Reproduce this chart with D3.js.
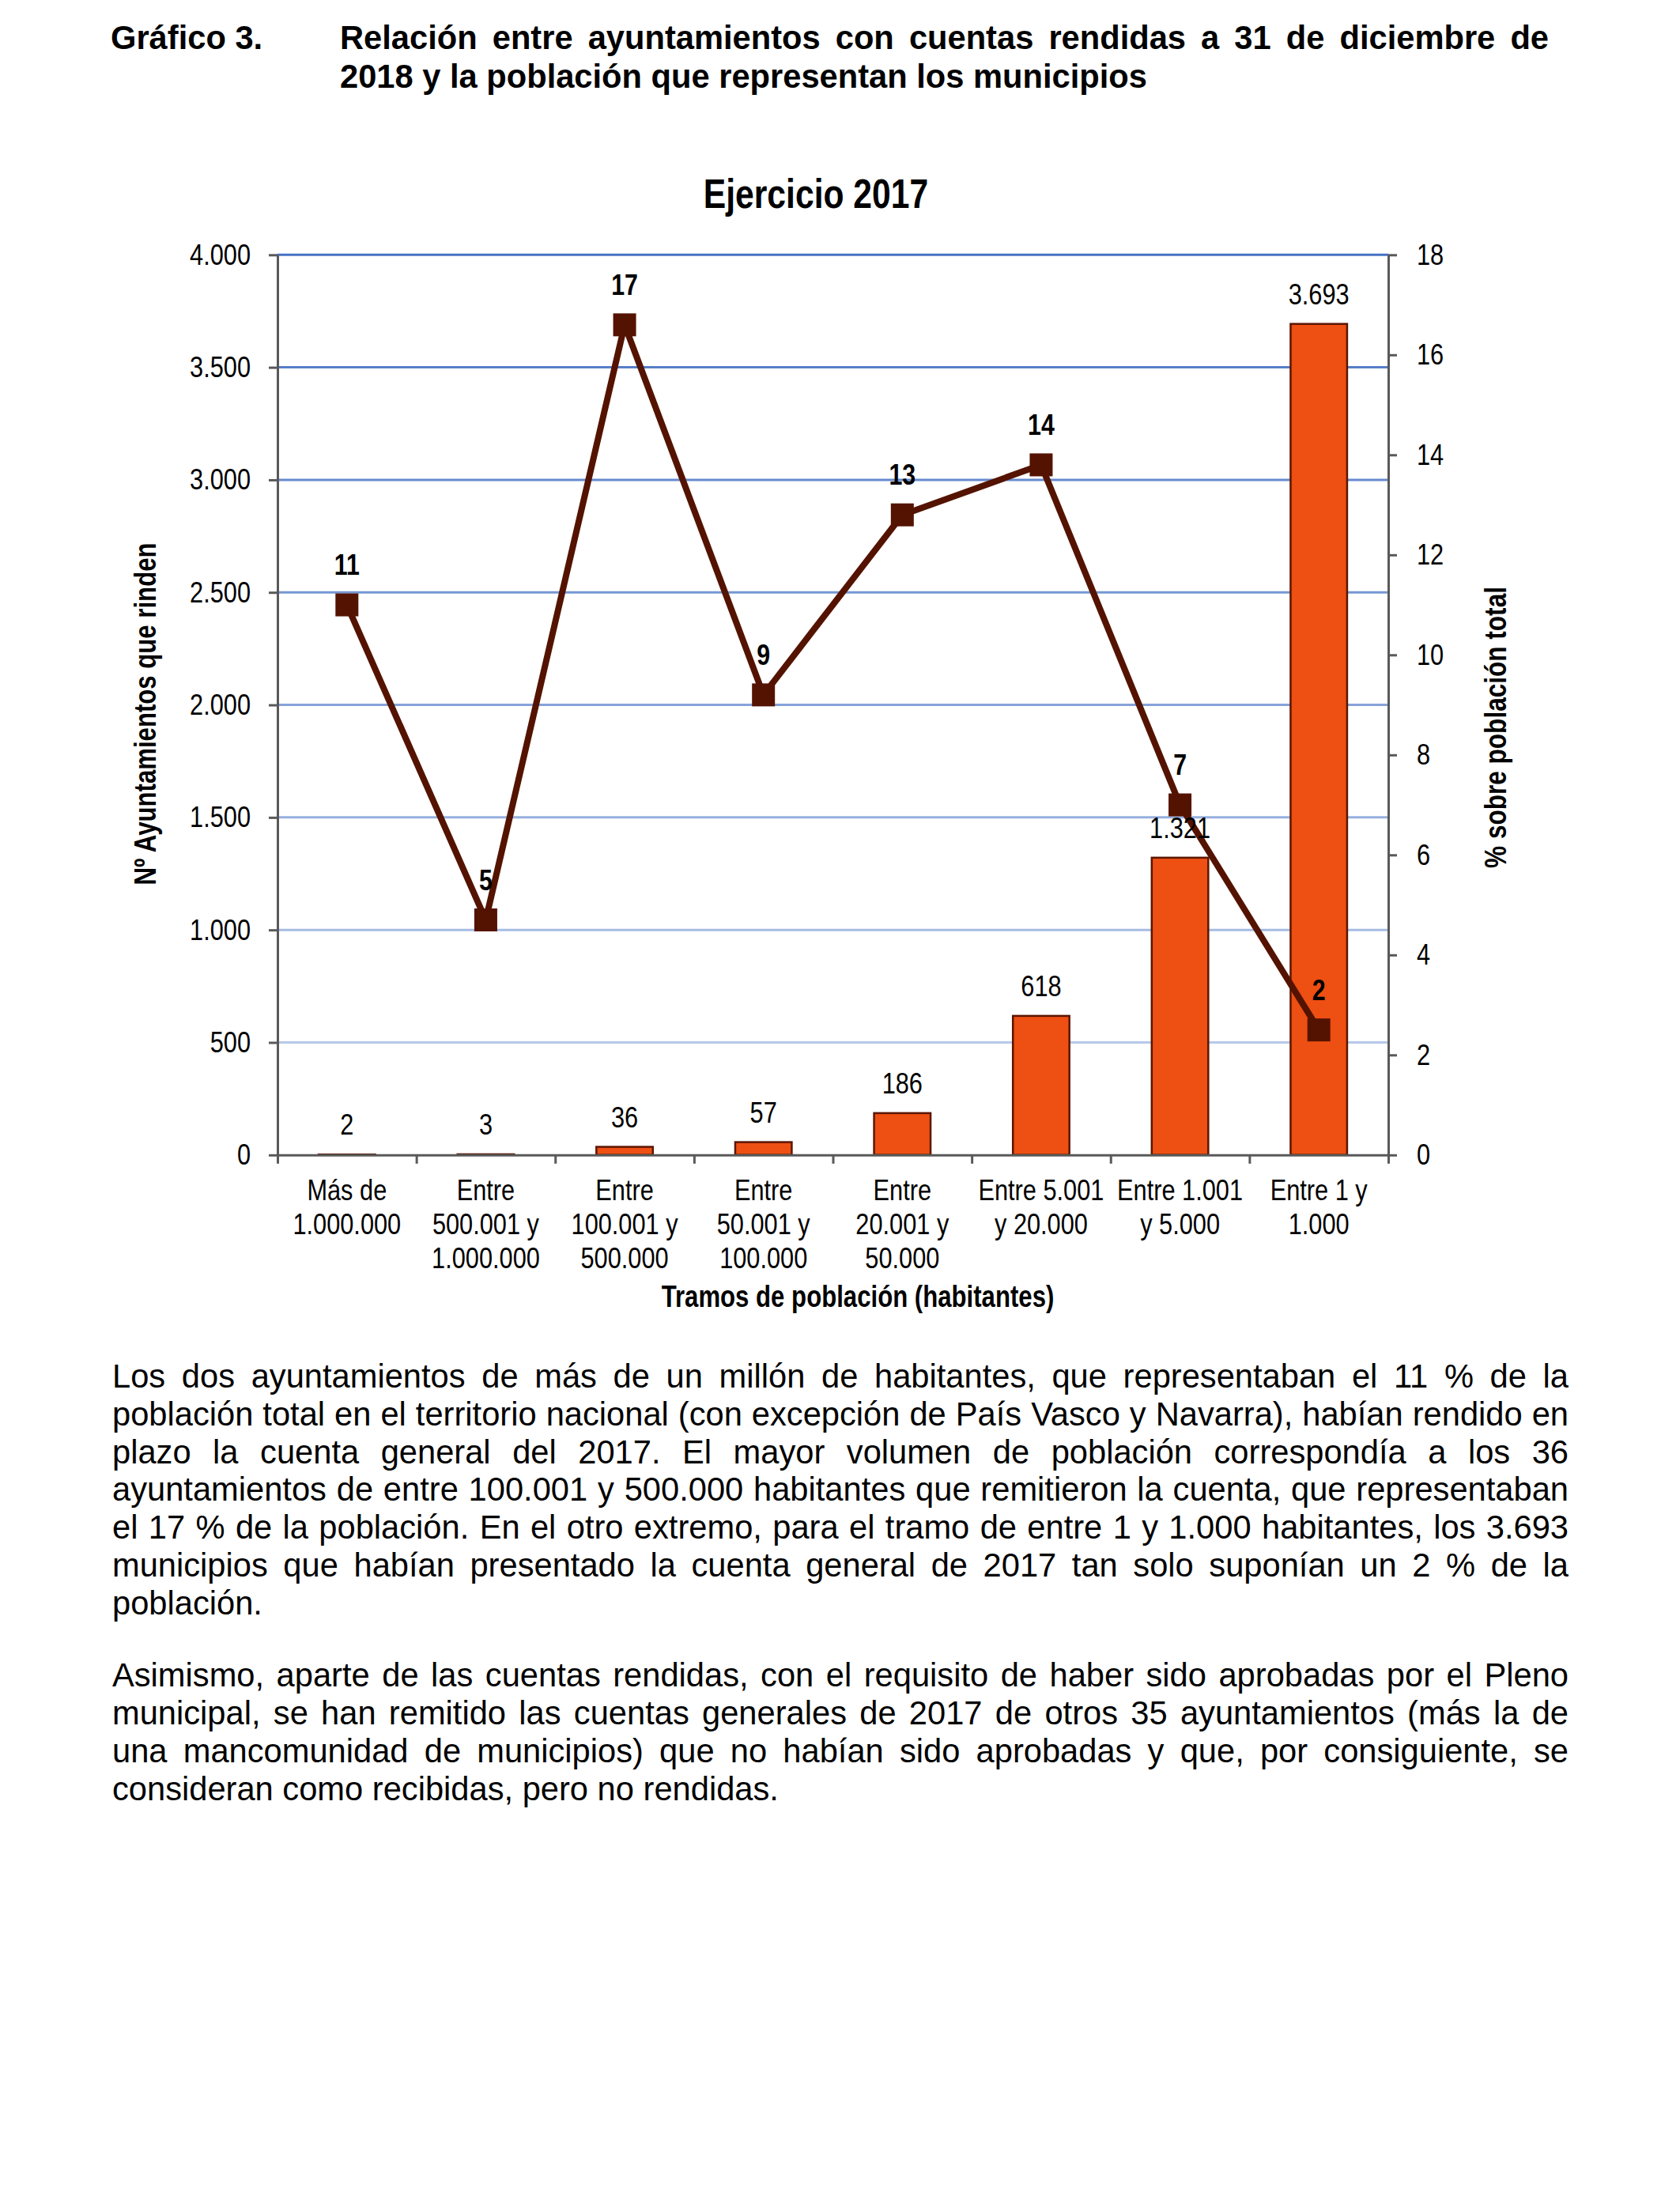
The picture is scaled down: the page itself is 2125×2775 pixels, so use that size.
<!DOCTYPE html>
<html><head><meta charset="utf-8">
<script src="https://cdn.jsdelivr.net/npm/d3@7"></script>
<style>
html,body{margin:0;padding:0;background:#fff;}
svg{display:block;}
</style></head><body>
<svg id="page" width="2125" height="2775"></svg>
<script>
// ---------- DATA ----------
const categories = ["c1","c2","c3","c4","c5","c6","c7","c8"];
const categoryLabels = [
  ["Más de","1.000.000"],
  ["Entre","500.001 y","1.000.000"],
  ["Entre","100.001 y","500.000"],
  ["Entre","50.001 y","100.000"],
  ["Entre","20.001 y","50.000"],
  ["Entre 5.001","y 20.000"],
  ["Entre 1.001","y 5.000"],
  ["Entre 1 y","1.000"]
];
const ayuntamientos = [2, 3, 36, 57, 186, 618, 1321, 3693];
const poblacionPct = [11.0, 4.7, 16.6, 9.2, 12.8, 13.8, 7.0, 2.5];
const poblacionLabels = ["11","5","17","9","13","14","7","2"];
const leftTicks = [0,500,1000,1500,2000,2500,3000,3500,4000];
const rightTicks = [0,2,4,6,8,10,12,14,16,18];

const chartTitle = "Ejercicio 2017";
const leftAxisTitle = "Nº Ayuntamientos que rinden";
const rightAxisTitle = "% sobre población total";
const xAxisTitle = "Tramos de población (habitantes)";

const headerLabel = "Gráfico 3.";
const headerLines = [
  {text:"Relación entre ayuntamientos con cuentas rendidas a 31 de diciembre de", justify:true},
  {text:"2018 y la población que representan los municipios", justify:false}
];
const para1 = [
  {text:"Los dos ayuntamientos de más de un millón de habitantes, que representaban el 11 % de la", justify:true},
  {text:"población total en el territorio nacional (con excepción de País Vasco y Navarra), habían rendido en", justify:true},
  {text:"plazo la cuenta general del 2017. El mayor volumen de población correspondía a los 36", justify:true},
  {text:"ayuntamientos de entre 100.001 y 500.000 habitantes que remitieron la cuenta, que representaban", justify:true},
  {text:"el 17 % de la población. En el otro extremo, para el tramo de entre 1 y 1.000 habitantes, los 3.693", justify:true},
  {text:"municipios que habían presentado la cuenta general de 2017 tan solo suponían un 2 % de la", justify:true},
  {text:"población.", justify:false}
];
const para2 = [
  {text:"Asimismo, aparte de las cuentas rendidas, con el requisito de haber sido aprobadas por el Pleno", justify:true},
  {text:"municipal, se han remitido las cuentas generales de 2017 de otros 35 ayuntamientos (más la de", justify:true},
  {text:"una mancomunidad de municipios) que no habían sido aprobadas y que, por consiguiente, se", justify:true},
  {text:"consideran como recibidas, pero no rendidas.", justify:false}
];

// ---------- STYLE ----------
const SANS = "'Liberation Sans',Arial,sans-serif";
const NX = 0.82; // Arial Narrow ≈ Arial compressed horizontally
const FS = 37.5;  // chart regular text size
const barFill = "#EE4F12", barStroke = "#5A1600";
const lineColor = "#541300";
const axisColor = "#595959";

const svg = d3.select("#page");
const loc = d3.formatLocale({decimal:",", thousands:".", grouping:[3], currency:["","€"]});
const fmt = loc.format(",d");

function narrow(parent, x, y, size, weight, anchor, rot){
  return parent.append("text")
    .attr("transform", `translate(${x},${y})` + (rot ? ` rotate(${rot})` : "") + ` scale(${NX},1)`)
    .attr("font-family", SANS).attr("font-size", size).attr("font-weight", weight || "normal")
    .attr("text-anchor", anchor || "middle").attr("fill", "#000");
}

// ---------- page text ----------
function justifiedLines(lines, x, y0, dy, width, size, weight){
  lines.forEach((ln, i) => {
    const t = svg.append("text")
      .attr("x", x).attr("y", y0 + i*dy)
      .attr("font-family", SANS).attr("font-size", size).attr("font-weight", weight)
      .attr("fill", "#000").text(ln.text);
    if (ln.justify){
      const w = t.node().getComputedTextLength();
      const n = (ln.text.match(/ /g) || []).length;
      if (n > 0) t.attr("word-spacing", (width - w)/n);
    }
  });
}
svg.append("text").attr("x", 140).attr("y", 62)
  .attr("font-family", SANS).attr("font-size", 41.67).attr("font-weight", "bold").text(headerLabel);
justifiedLines(headerLines, 430, 62, 48.5, 1529, 41.67, "bold");
justifiedLines(para1, 142, 1755, 47.8, 1842, 41.67, "normal");
justifiedLines(para2, 142, 2133, 48, 1842, 41.67, "normal");

// ---------- chart ----------
const L = 351, R = 1756, T = 322.3, B = 1460.8;
const x = d3.scaleBand().domain(categories).range([L, R]).padding(0);
const bw = x.bandwidth();
const barW = bw * 0.407;
const yL = d3.scaleLinear().domain([0, 4000]).range([B, T]);
const yR = d3.scaleLinear().domain([0, 18]).range([B, T]);
const xb = d3.scaleLinear().domain([0, categories.length]).range([L, R]);

narrow(svg, 1032, 263, 52, "bold").text(chartTitle);

// gridlines
const gridColor = d3.interpolateRgb("#b6c8e8", "#4672c4");
svg.append("g").selectAll("line").data(leftTicks.filter(d => d > 0)).join("line")
  .attr("x1", L).attr("x2", R)
  .attr("y1", d => yL(d)).attr("y2", d => yL(d))
  .attr("stroke", d => gridColor((d - 500) / 3500))
  .attr("stroke-width", 3);

// bars
svg.append("g").selectAll("rect").data(ayuntamientos).join("rect")
  .attr("x", (d, i) => x(categories[i]) + (bw - barW) / 2)
  .attr("width", barW)
  .attr("y", d => yL(d))
  .attr("height", d => yL(0) - yL(d))
  .attr("fill", barFill).attr("stroke", barStroke).attr("stroke-width", 2.5);

// axes
function styleAxis(g){
  g.attr("font-family", SANS).attr("font-size", FS);
  g.selectAll(".domain").attr("stroke", axisColor).attr("stroke-width", 3);
  g.selectAll(".tick line").attr("stroke", axisColor).attr("stroke-width", 3);
  g.selectAll(".tick text").attr("fill", "#000").each(function(){
    const s = d3.select(this);
    const xv = +s.attr("x") || 0;
    s.attr("x", xv / NX).attr("transform", `scale(${NX},1)`);
  });
}
svg.append("g").attr("transform", `translate(${L},0)`)
  .call(d3.axisLeft(yL).tickValues(leftTicks).tickFormat(fmt).tickSize(11).tickSizeOuter(0).tickPadding(23))
  .call(styleAxis);
svg.append("g").attr("transform", `translate(${R},0)`)
  .call(d3.axisRight(yR).tickValues(rightTicks).tickFormat(d3.format("d")).tickSize(11).tickSizeOuter(0).tickPadding(25))
  .call(styleAxis);
svg.append("g").attr("transform", `translate(0,${B})`)
  .call(d3.axisBottom(xb).tickValues(d3.range(categories.length + 1)).tickFormat("").tickSize(11).tickSizeOuter(0))
  .call(styleAxis);

// category labels
const catG = svg.append("g");
categoryLabels.forEach((lines, i) => {
  const t = narrow(catG, x(categories[i]) + bw / 2, 1518, FS, "normal");
  lines.forEach((s, j) => t.append("tspan").attr("x", 0).attr("y", j * 43).text(s));
});

// axis titles
narrow(svg, 197, 903, 38, "bold", "middle", -90).text(leftAxisTitle);
narrow(svg, 1905, 920, 38.5, "bold", "middle", -90).text(rightAxisTitle);
narrow(svg, 1085, 1653, 38, "bold").text(xAxisTitle);

// line
const cx = i => x(categories[i]) + bw / 2;
svg.append("path").datum(poblacionPct)
  .attr("d", d3.line().x((d, i) => cx(i)).y(d => yR(d)))
  .attr("fill", "none").attr("stroke", lineColor).attr("stroke-width", 8).attr("stroke-linejoin", "round");
const ms = 29;
svg.append("g").selectAll("rect").data(poblacionPct).join("rect")
  .attr("x", (d, i) => cx(i) - ms / 2).attr("y", d => yR(d) - ms / 2)
  .attr("width", ms).attr("height", ms).attr("fill", lineColor);

// bar labels
const barLab = svg.append("g");
ayuntamientos.forEach((d, i) => narrow(barLab, cx(i), yL(d) - 25, FS, "normal").text(fmt(d)));

// line labels
const lineLab = svg.append("g");
poblacionPct.forEach((d, i) => narrow(lineLab, cx(i), yR(d) - 38, 37, "bold").text(poblacionLabels[i]));
</script>
</body></html>
